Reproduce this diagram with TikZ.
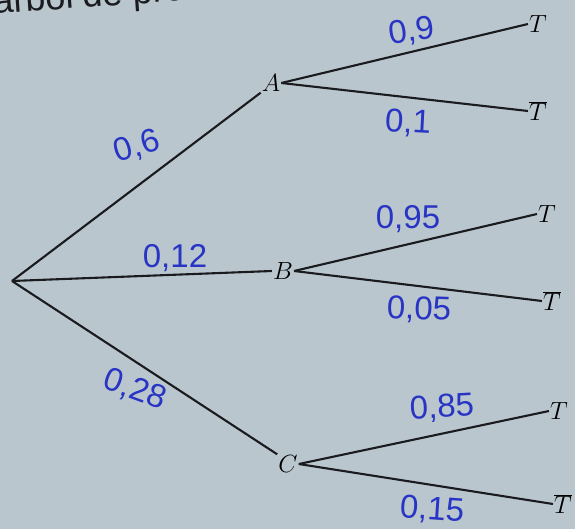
\documentclass[tikz,border=0pt]{standalone}
\usepackage{fontspec}
\newfontfamily\hand{Liberation Sans}
\begin{document}
\begin{tikzpicture}[x=1pt,y=-1pt,
  lettr/.style={inner sep=1pt,font=\fontsize{26}{26}\selectfont},
  prob/.style={text=ink,font=\hand\fontsize{33}{33}\selectfont,inner sep=0pt},
  edge/.style={line width=2.1pt,draw=linecol}]
\definecolor{paper}{RGB}{186,198,206}
\definecolor{ink}{RGB}{40,52,196}
\definecolor{linecol}{RGB}{25,27,30}
\fill[paper] (0,0) rectangle (575,529);
\useasboundingbox (0,0) rectangle (575,529);
\clip (0,0) rectangle (575,529);
% cropped header line
\node[anchor=base west,inner sep=0pt,rotate=4,text=linecol,font=\hand\fontsize{36}{36}\selectfont] (head) at (-6,14) {árbol de probabilidades};
% tree
\coordinate (root) at (12,281);
\node[lettr] (A) at (271,83) {$A$};
\node[lettr] (B) at (283,271) {$B$};
\node[lettr] (C) at (288,464) {$C$};
\node[lettr] (TA) at (538,24) {$T$};
\node[lettr] (TbA) at (538,111) {$\overline{T}$};
\node[lettr] (TB) at (547,214) {$T$};
\node[lettr] (TbB) at (552,301) {$\overline{T}$};
\node[lettr] (TC) at (559,411) {$T$};
\node[lettr] (TbC) at (563,504) {$\overline{T}$};
\draw[edge] (root) -- (A.south west);
\draw[edge] (root) -- (B.west);
\draw[edge] (root) -- (C.north west);
\draw[edge] (A.east) -- (TA.west);
\draw[edge] (A.east) -- (TbA.west);
\draw[edge] (B.east) -- (TB.west);
\draw[edge] (B.east) -- (TbB.west);
\draw[edge] (C.east) -- (TC.west);
\draw[edge] (C.east) -- (TbC.west);
% handwritten probabilities
\node[prob,rotate=17] (p1) at (137,147) {0,6};
\node[prob] (p2) at (175,258) {0,12};
\node[prob,rotate=-20] (p3) at (135,390) {0,28};
\node[prob,rotate=8] (p4) at (412,32) {0,9};
\node[prob,rotate=-3] (p5) at (408,123) {0,1};
\node[prob] (p6) at (408,219) {0,95};
\node[prob,rotate=-2] (p7) at (419,310) {0,05};
\node[prob,rotate=3] (p8) at (442,408) {0,85};
\node[prob,rotate=-4] (p9) at (432,510) {0,15};
\end{tikzpicture}
\end{document}
